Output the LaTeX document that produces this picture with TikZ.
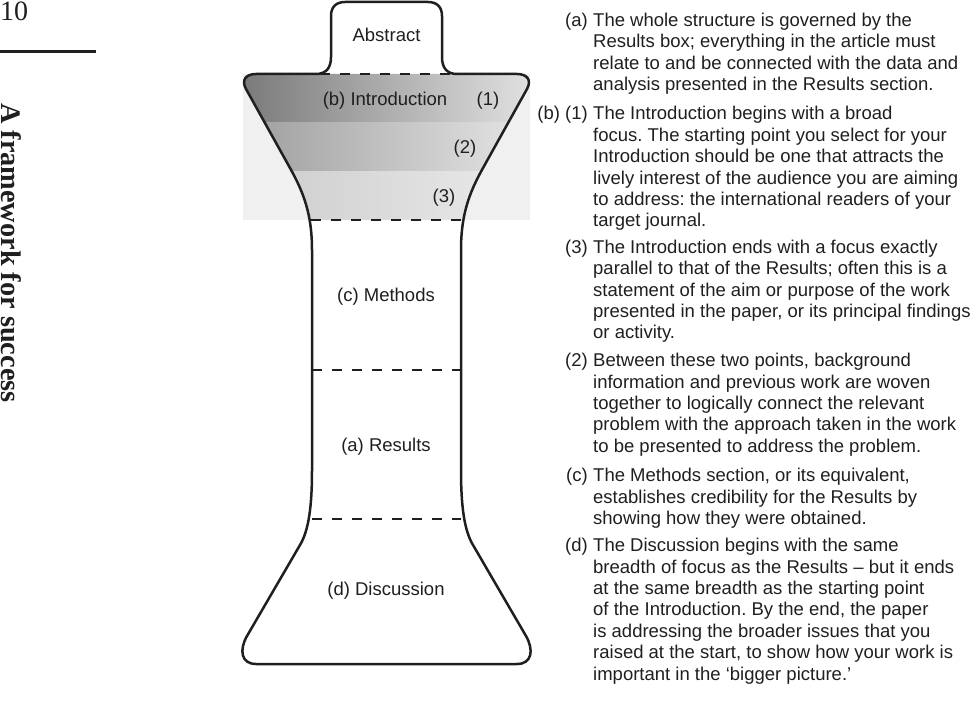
\documentclass[tikz,border=0pt]{standalone}
\usepackage{fontspec}
\setmainfont{Liberation Sans}
\newfontfamily\serifA{Liberation Serif}
\definecolor{ink}{gray}{0.12}
\frenchspacing
\begin{document}
\begin{tikzpicture}[x=1pt,y=-1pt,
  outline/.style={line width=2.5pt, draw=ink, line join=round, line cap=round},
  divider/.style={line width=2.5pt, draw=ink, dash pattern=on 10pt off 10pt},
  lbl/.style={font=\fontsize{18.5}{21.4}\selectfont, text=ink, inner sep=0pt, anchor=base},
  para/.style={font=\fontsize{18.5}{21.4}\selectfont, text=ink, inner sep=0pt, anchor=base west, align=left},
  tag/.style={font=\fontsize{18.5}{21.4}\selectfont, text=ink, inner sep=0pt, anchor=base east}]
\useasboundingbox (0,0) rectangle (978,708);

% margin header
\node[anchor=base west, inner sep=0pt, text=ink, font=\serifA\fontsize{28}{30}\selectfont] (pagenum) at (0,21) {10};
\draw[line width=2.5pt, ink] (0,51.5) -- (96,51.5);
\node[rotate=-90, anchor=base west, inner sep=0pt, text depth=0pt, text=ink, font=\serifA\bfseries\fontsize{28.3}{30}\selectfont] (spine) at (1.5,103) {A framework for success};

% shaded introduction bands
\fill[black!6] (243,74) rectangle (530,220);
\begin{scope}
\clip (256,74) .. controls (246,74) and (241,80) .. (246,89) -- (290,168)
  .. controls (304,193) and (312,215) .. (312,250) -- (461,250)
  .. controls (461,215) and (469,193) .. (483,168) -- (527,89)
  .. controls (532,80) and (527,74) .. (517,74) -- cycle;
\shade[left color=black!52, right color=black!12] (243,74) rectangle (530,123);
\shade[left color=black!38, right color=black!10] (243,123) rectangle (530,172);
\shade[left color=black!20, right color=black!8] (243,172) rectangle (530,220);
\end{scope}

% outline
\draw[outline] (316,74) -- (256,74)
  .. controls (246,74) and (241,80) .. (246,89) -- (290,168)
  .. controls (304,193) and (312,215) .. (312,250) -- (312,470)
  .. controls (312,505) and (309,530) .. (300,545) -- (247,636)
  .. controls (239,650) and (241,664) .. (256,664) -- (517,664)
  .. controls (532,664) and (534,650) .. (526,636) -- (473,545)
  .. controls (464,530) and (461,505) .. (461,470) -- (461,250)
  .. controls (461,215) and (469,193) .. (483,168) -- (527,89)
  .. controls (532,80) and (527,74) .. (517,74) -- (457,74)
  .. controls (447,74) and (442,68) .. (442,57) -- (442,16)
  .. controls (442,7) and (437,2) .. (428,2) -- (345,2)
  .. controls (336,2) and (331,7) .. (331,16) -- (331,57)
  .. controls (331,68) and (326,74) .. (316,74);

% dividers
\draw[divider] (320,74) -- (455,74);
\draw[divider] (311,220) -- (463,220);
\draw[divider] (312,370) -- (461,370);
\draw[divider] (312,519) -- (461,519);

% section labels
\node[lbl] (abs) at (386.5,41.7) {Abstract};
\node[lbl] (intro) at (385,106) {(b) Introduction};
\node[lbl] (one) at (488,106) {(1)};
\node[lbl] (two) at (465,154) {(2)};
\node[lbl] (three) at (444,203) {(3)};
\node[lbl] (meth) at (386,302) {(c) Methods};
\node[lbl] (res) at (386,451.7) {(a) Results};
\node[lbl] (disc) at (386,595) {(d) Discussion};

% explanations (paragraph nodes anchored at the baseline of their last line)
\node[tag] (ta) at (588,26.5) {(a)};
\node[para] (pa) at (593,90.7) {The whole structure is governed by the\\Results box; everything in the article must\\relate to and be connected with the data and\\analysis presented in the Results section.};
\node[tag] (tb) at (588,120) {(b) (1)};
\node[para] (pb) at (593,227) {The Introduction begins with a broad\\focus. The starting point you select for your\\Introduction should be one that attracts the\\lively interest of the audience you are aiming\\to address: the international readers of your\\target journal.};
\node[tag] (t3) at (588,253.3) {(3)};
\node[para] (p3) at (593,338.9) {The Introduction ends with a focus exactly\\parallel to that of the Results; often this is a\\statement of the aim or purpose of the work\\presented in the paper, or its principal findings\\or activity.};
\node[tag] (t2) at (588,366.7) {(2)};
\node[para] (p2) at (593,452.3) {Between these two points, background\\information and previous work are woven\\together to logically connect the relevant\\problem with the approach taken in the work\\to be presented to address the problem.};
\node[tag] (tc) at (588,481.7) {(c)};
\node[para] (pc) at (593,524.5) {The Methods section, or its equivalent,\\establishes credibility for the Results by\\showing how they were obtained.};
\node[tag] (td) at (588,551.7) {(d)};
\node[para] (pd) at (593,680.1) {The Discussion begins with the same\\breadth of focus as the Results – but it ends\\at the same breadth as the starting point\\of the Introduction. By the end, the paper\\is addressing the broader issues that you\\raised at the start, to show how your work is\\important in the ‘bigger picture.’};
\end{tikzpicture}
\end{document}
